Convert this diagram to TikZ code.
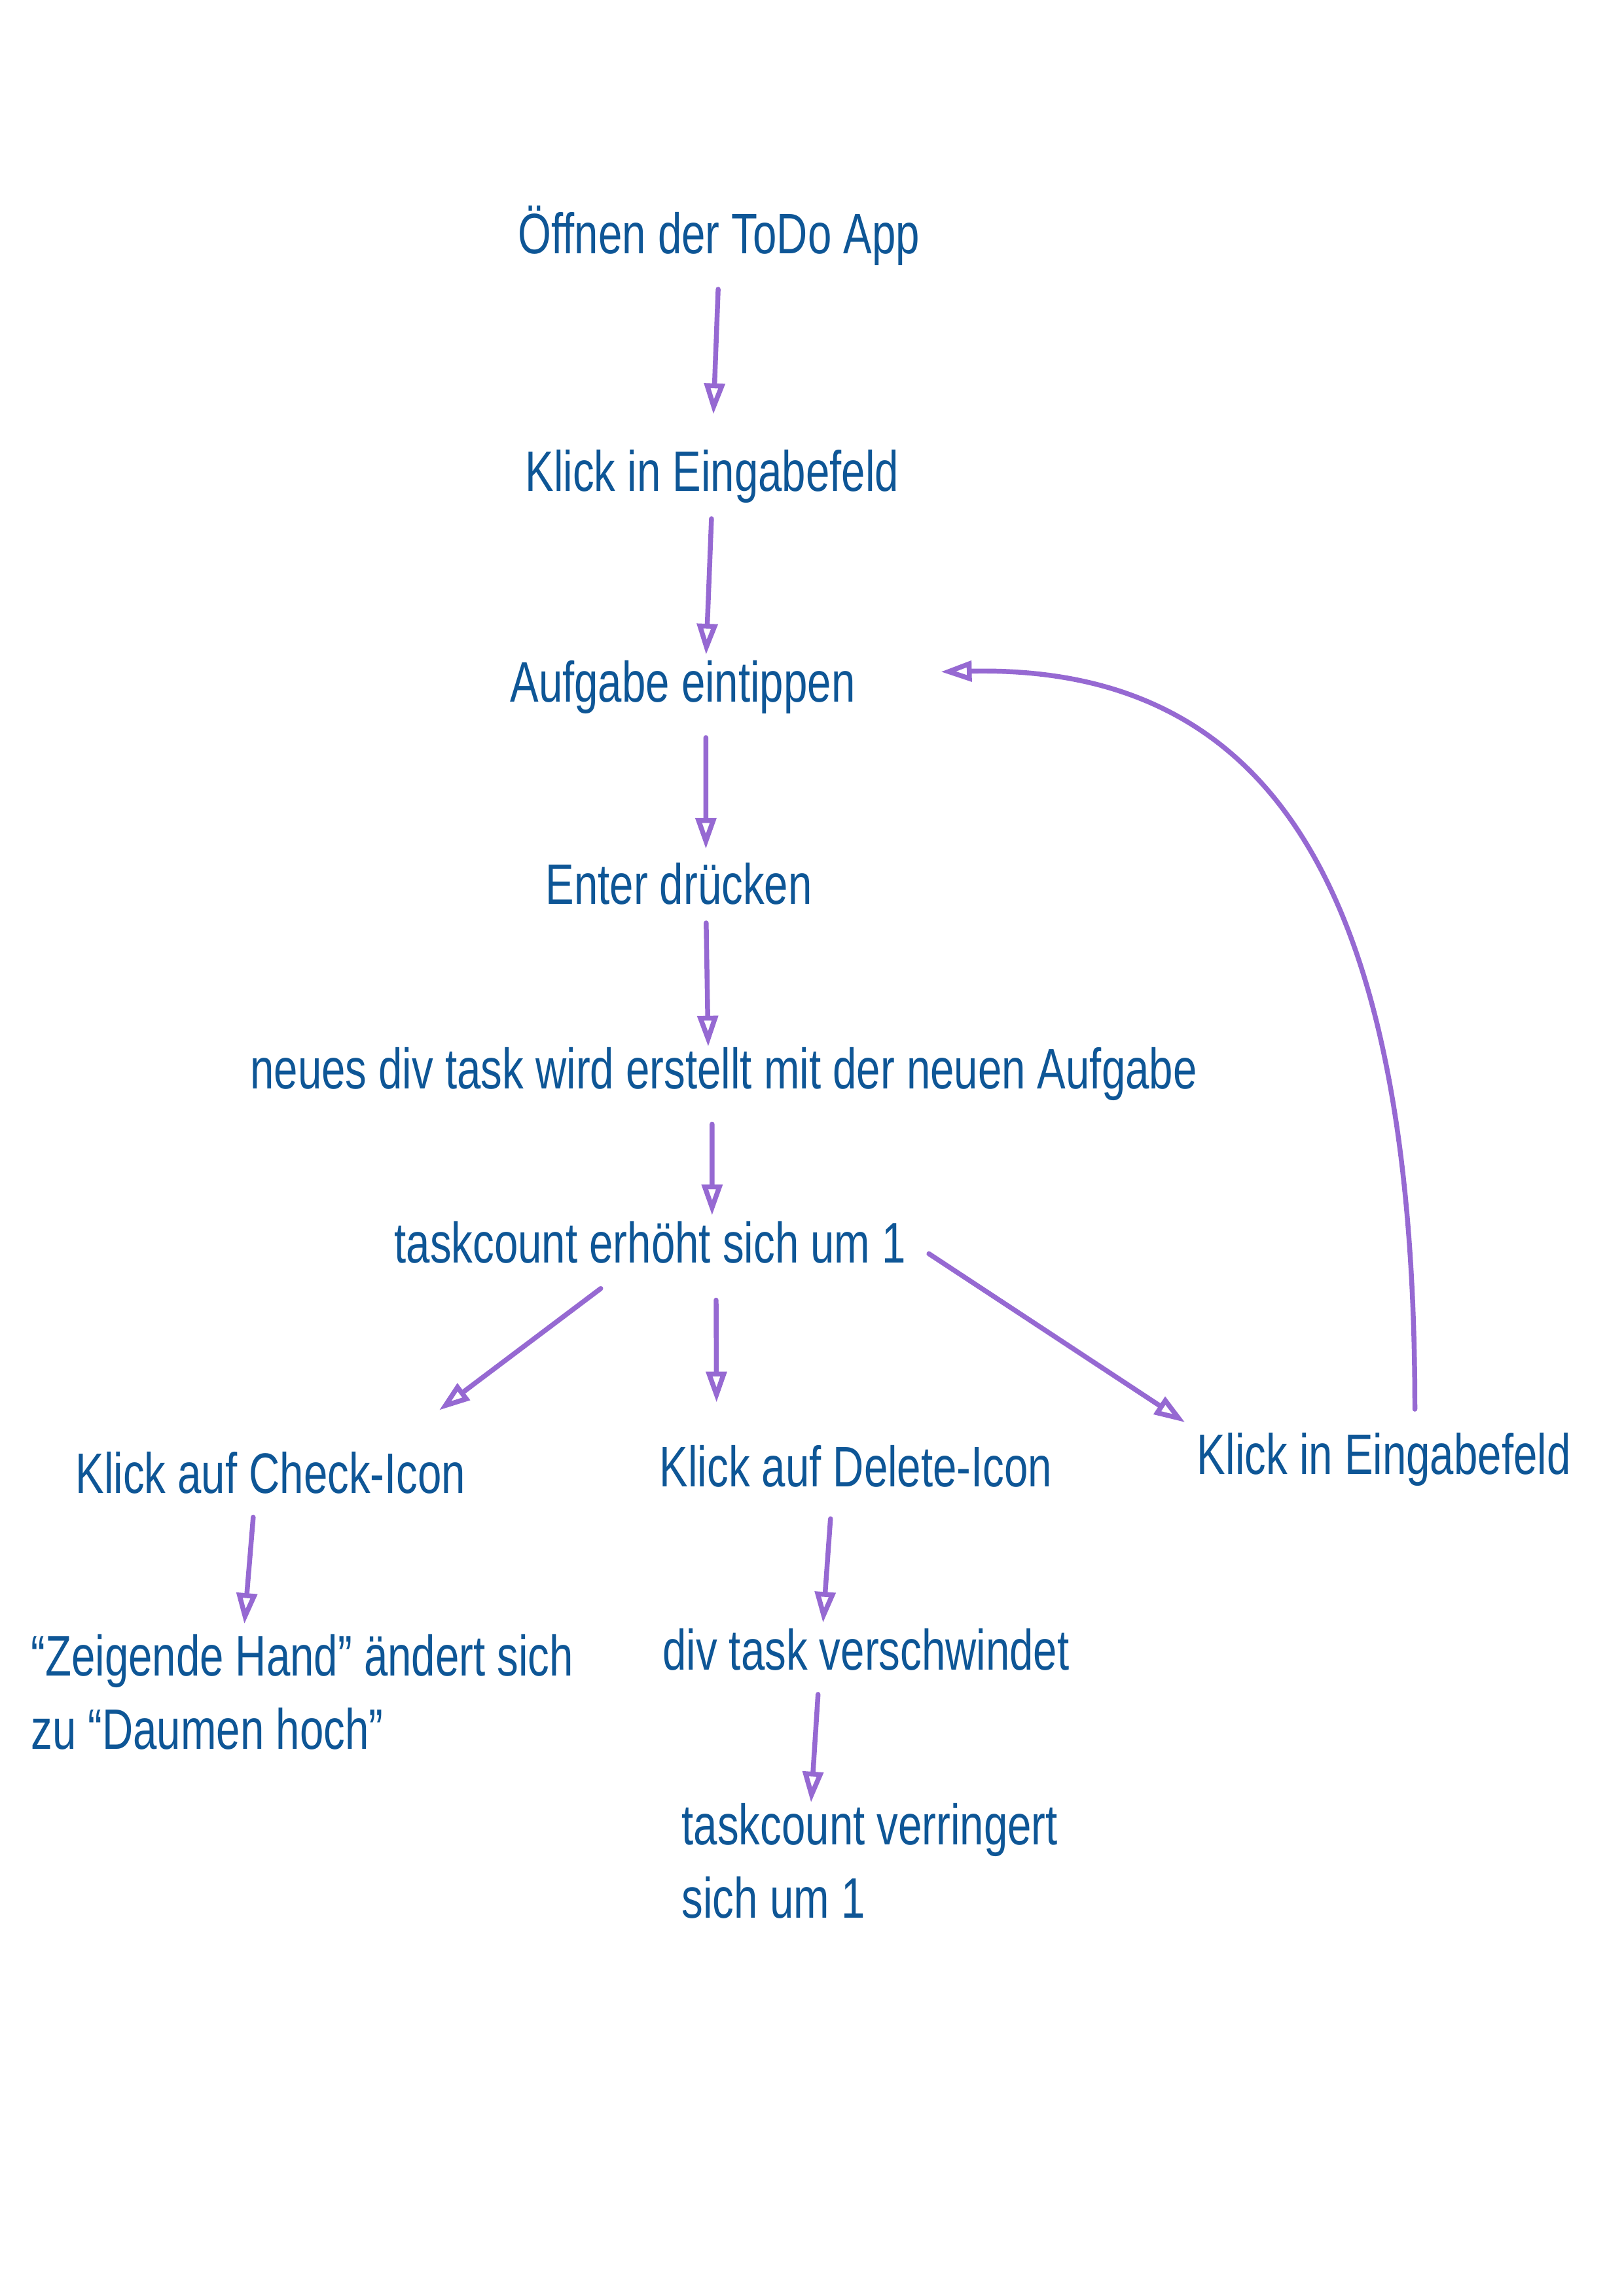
\documentclass[tikz,border=0pt]{standalone}
\usepackage{fontspec}
\setmainfont{Liberation Sans}[FakeStretch=0.75]
\usetikzlibrary{arrows.meta}
\definecolor{ink}{RGB}{14,86,150}
\definecolor{lilac}{RGB}{150,105,210}
\tikzset{
  stage/.style={text=ink, inner sep=0pt, font=\fontsize{21}{27}\selectfont, align=left},
  flow/.style={draw=lilac, line width=1.8pt, line cap=round,
    -{Triangle[open, length=4mm, width=2.6mm, line width=1.8pt]},
    shorten <=3mm, shorten >=4.5mm}
}
\begin{document}
\begin{tikzpicture}
  \fill[white] (0,0) rectangle (21,29.7);
  \useasboundingbox (0,0) rectangle (21,29.7);
  \node[stage] (open)    at (9.30,26.65) {Öffnen der ToDo App};
  \node[stage] (click)   at (9.21,23.54) {Klick in Eingabefeld};
  \node[stage] (type)    at (8.83,20.81) {Aufgabe eintippen};
  \node[stage] (enter)   at (8.78,18.27) {Enter drücken};
  \node[stage] (newdiv)  at (9.36,15.81) {neues div task wird erstellt mit der neuen Aufgabe};
  \node[stage] (countup) at (8.41,13.63) {taskcount erhöht sich um 1};
  \node[stage] (check)   at (3.50,10.65) {Klick auf Check-Icon};
  \node[stage] (delete)  at (11.07,10.73) {Klick auf Delete-Icon};
  \node[stage] (again)   at (17.90,10.82) {Klick in Eingabefeld};
  \node[stage] (thumb)   at (3.91,7.81) {``Zeigende Hand'' ändert sich\\zu ``Daumen hoch''};
  \node[stage] (gone)    at (11.20,8.36) {div task verschwindet};
  \node[stage] (countdn) at (11.25,5.63) {taskcount verringert\\sich um 1};
  \draw[flow] (open.south) -- (click.north);
  \draw[flow, shorten <=2mm, shorten >=0.7mm] (click.south) -- ([xshift=3mm]type.north);
  \draw[flow, shorten >=1.7mm] ([xshift=3mm]type.south) -- ([xshift=3.5mm]enter.north);
  \draw[flow, shorten <=2.3mm, shorten >=0pt] ([xshift=3.5mm]enter.south) -- ([xshift=-2mm]newdiv.north);
  \draw[flow, shorten >=0.7mm] ([xshift=-1.5mm]newdiv.south) -- ([xshift=8mm]countup.north);
  \draw[flow, shorten <=0pt, shorten >=0pt] ([xshift=-6.4mm,yshift=-3.2mm]countup.south) -- ([xshift=2.18cm,yshift=5.3mm]check.north);
  \draw[flow, shorten <=4.7mm, shorten >=5.5mm] ([xshift=8.5mm]countup.south) -- ([xshift=-1.8cm]delete.north);
  \draw[flow, shorten <=0pt, shorten >=0pt] ([xshift=2.9mm,yshift=1.3mm]countup.south east) -- ([xshift=-1.5mm,yshift=1.3mm]again.north west);
  \draw[flow, shorten >=1.3mm] ([xshift=-2mm]check.south) -- ([xshift=-7.6mm]thumb.north);
  \draw[flow, shorten <=4mm, shorten >=0.7mm] ([xshift=-3mm]delete.south) -- ([xshift=-5.6mm]gone.north);
  \draw[flow, shorten >=0pt] ([xshift=-6mm]gone.south) -- ([xshift=-7.6mm]countdn.north);
  \draw[flow, shorten >=0pt] ([xshift=4mm]again.north) .. controls (18.30,18.19) and (16.46,21.1) .. ([xshift=11mm,yshift=2mm]type.east);
\end{tikzpicture}
\end{document}
